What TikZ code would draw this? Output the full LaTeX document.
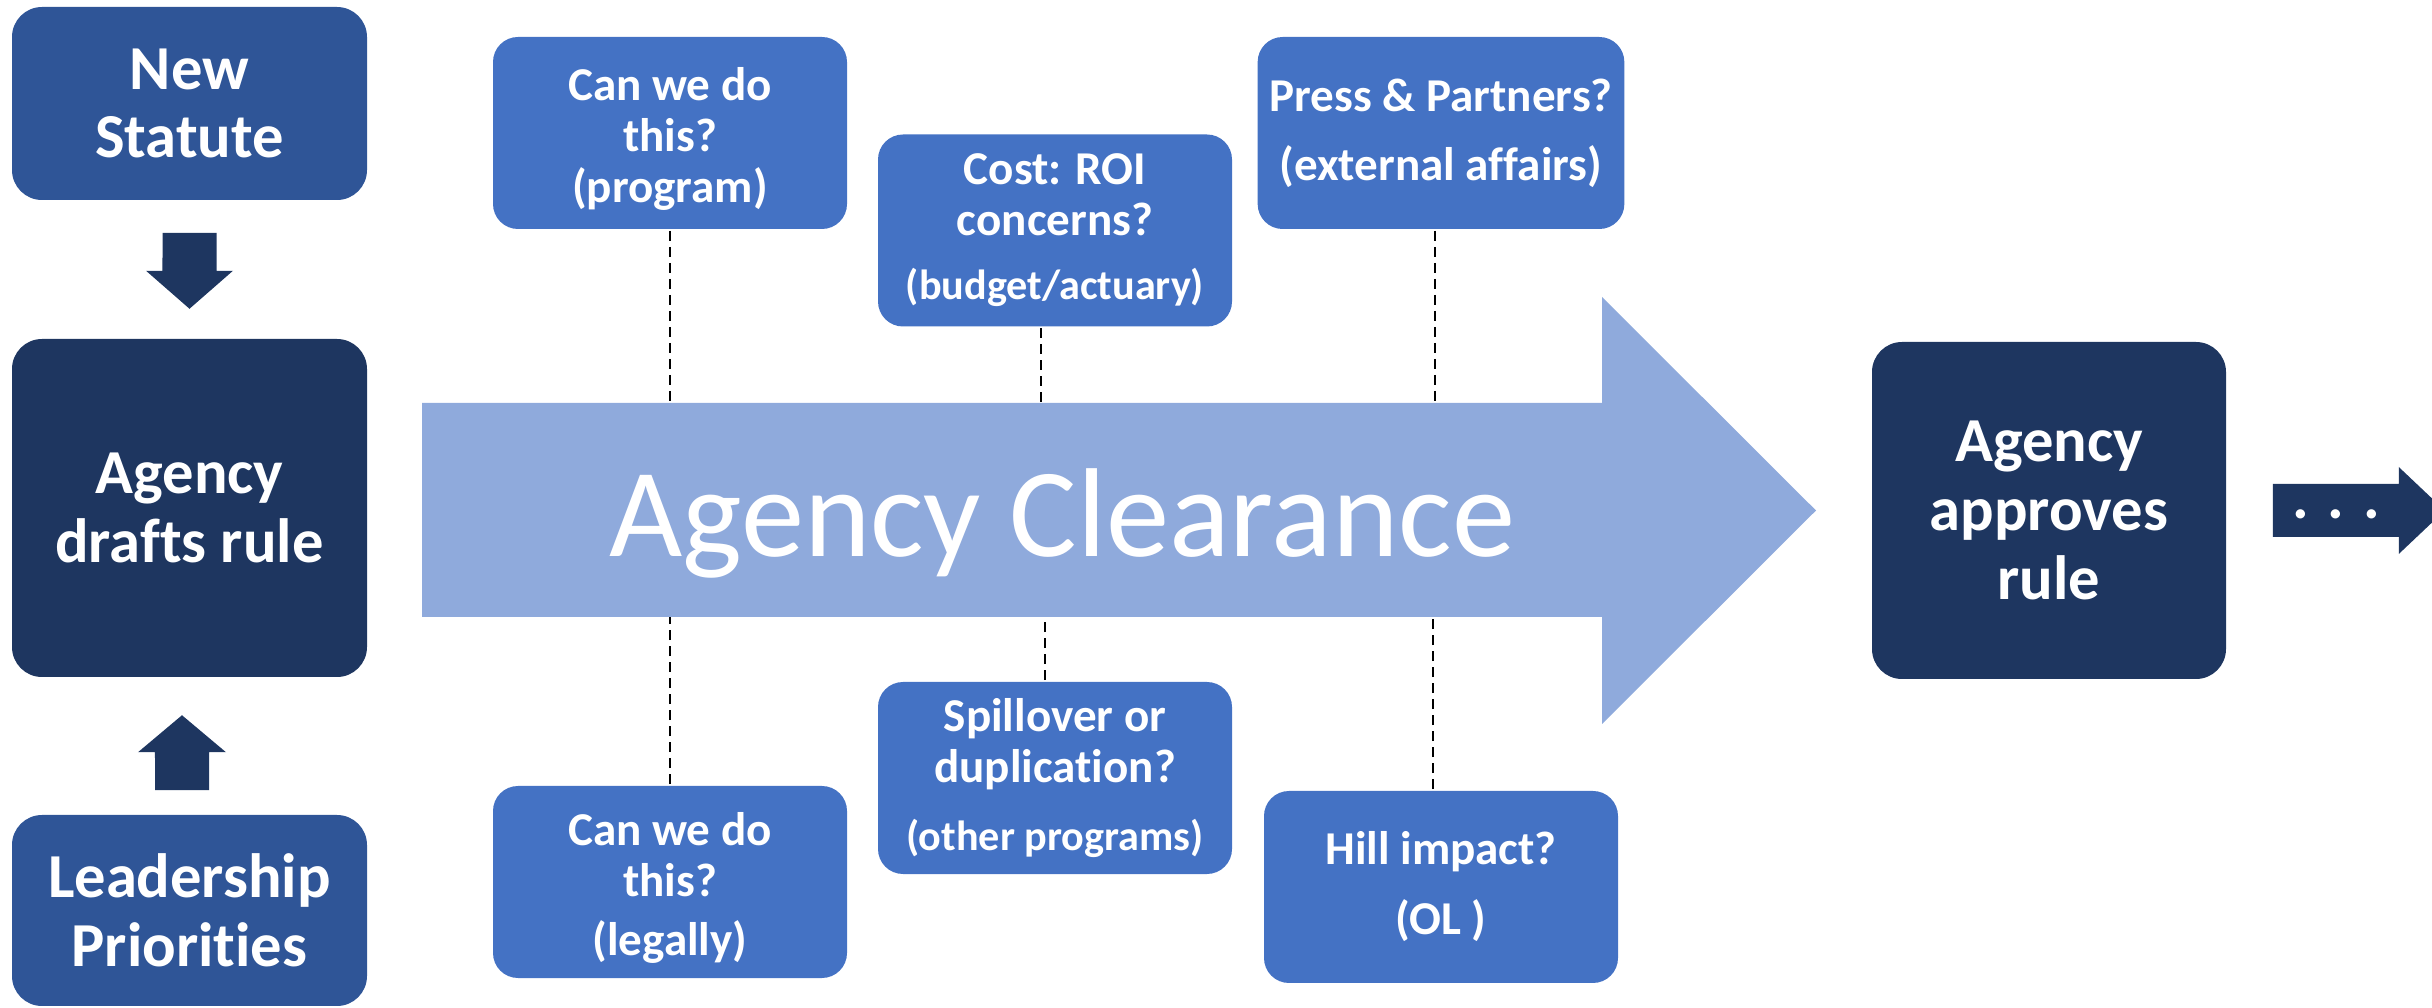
\documentclass[tikz,border=0pt]{standalone}
\usepackage{fontspec}
\setmainfont{Carlito}[Ligatures = NoCommon]
\usetikzlibrary{shapes}
\usetikzlibrary{calc}
\usetikzlibrary{positioning}
\definecolor{midblue}{HTML}{2F5597}
\definecolor{navy}{HTML}{1E3660}
\definecolor{askblue}{HTML}{4472C4}
\definecolor{paleblue}{HTML}{8FAADC}
\providecommand*{\boxfont}{\bfseries\fontsize{17.8pt}{19.6pt}\selectfont}
\providecommand*{\askfont}{\bfseries\fontsize{13.4pt}{14.5pt}\selectfont}
\providecommand*{\subfont}{\fontsize{12pt}{14.5pt}\selectfont}
\providecommand*{\bannerfont}{\fontsize{36pt}{40pt}\selectfont}

\begin{document}
\begin{tikzpicture}[line width = 1pt,
    stackbox/.style = {rectangle, rounded corners = 0.3cm, minimum width = 3.55cm, text = white, align = center, font = \boxfont},
    qbox/.style = {rectangle, rounded corners = 0.25cm, fill = askblue, minimum width = 3.54cm, minimum height = 1.92cm, text = white, align = center, font = \askfont},
    guide/.style = {black, line width = 0.7pt, dash pattern = on 0.1cm off 0.06cm}]
    \useasboundingbox[clip] (0,0) rectangle (24.32,-10.08);

    %\draw[help lines, opacity = 0.1] (0,-10) grid (24,0);

    % where the rule comes from
    \begin{scope}[on grid]
        \node (drafts) at (1.895,-5.08) [stackbox, fill = navy, minimum height = 3.38cm] {Agency\\drafts rule};
        \node (statute) [stackbox, fill = midblue, minimum height = 1.93cm, above = 4.045cm of drafts] {New\\Statute};
        \node (leaders) [stackbox, fill = midblue, minimum height = 1.91cm, below = 4.025cm of drafts] {Leadership\\Priorities};

        \fill[navy] ($(statute.south)+(-0.27,-0.31)$) -- ++(0.54,0) -- ++(0,-0.38) -- ++(0.165,0)
            -- ++(-0.435,-0.38) -- ++(-0.435,0.38) -- ++(0.165,0) -- cycle;
        \fill[navy] ($(leaders.north)+(-0.345,0.23)$) -- ++(0.54,0) -- ++(0,0.38) -- ++(0.17,0)
            -- ++(-0.44,0.37) -- ++(-0.44,-0.37) -- ++(0.17,0) -- cycle;
    \end{scope}

    % clearance arrow
    \coordinate (shaft nw) at (4.22,-4.03);
    \coordinate (shaft sw) at (4.22,-6.17);
    \coordinate (head n) at (16.02,-2.97);
    \coordinate (head s) at (16.02,-7.24);
    \coordinate (tip) at (18.16,-5.105);
    \fill[paleblue] (shaft nw) -- (shaft nw -| head n) -- (head n) -- (tip) -- (head s) -- (shaft sw -| head s) -- (shaft sw) -- cycle;
    \node (clearance) at (10.62,-5.57) [anchor = base, text = white, font = \bannerfont] {Agency Clearance};

    % questions asked in clearance
    \begin{scope}[on grid]
        \node (canprog) at (6.70,-1.33) [qbox] {\rule{0pt}{0.45cm}Can we do\\this?\\(program)};
        \node (cost) [qbox, below right = 0.975cm and 3.85cm of canprog] {Cost: ROI\\concerns?\\[0.13cm]{\subfont (budget/actuary)}};
        \node (press) [qbox, right = 7.71cm of canprog] {Press \& Partners?\\[0.18cm](external affairs)};

        \node (canlegal) [qbox, below = 7.49cm of canprog] {\rule{0pt}{0.45cm}Can we do\\this?\\[0.08cm](legally)};
        \node (spill) [qbox, below = 5.475cm of cost] {Spillover or\\duplication?\\[0.17cm]{\subfont (other programs)}};
        \node (hill) [qbox, below = 7.54cm of press] {Hill impact?\\[0.19cm](OL )};
    \end{scope}

    \foreach \q/\dx in {canprog/0, cost/-0.14, press/-0.06}
        \draw[guide] ($(\q.south)+(\dx,0)$) -- ($(\q.south |- shaft nw)+(\dx,0)$);
    \foreach \q/\dx in {canlegal/0, spill/-0.10, hill/-0.08}
        \draw[guide] ($(\q.north)+(\dx,0)$) -- ($(\q.north |- shaft sw)+(\dx,0)$);

    % approval and what follows
    \node (approves) at (20.49,-5.105) [stackbox, fill = navy, minimum width = 3.54cm, minimum height = 3.37cm] {Agency\\approves\\rule};

    \fill[navy] ($(approves.east)+(0.45,0.265)$) -- ++(1.26,0) -- ++(0,0.17) -- ++(0.46,-0.435)
        -- ++(-0.46,-0.435) -- ++(0,0.17) -- ++(-1.26,0) -- cycle;
    \node (more) at (23.36,-5.19) [anchor = base, text = white, font = \boxfont] {. . .};

\end{tikzpicture}
\end{document}
